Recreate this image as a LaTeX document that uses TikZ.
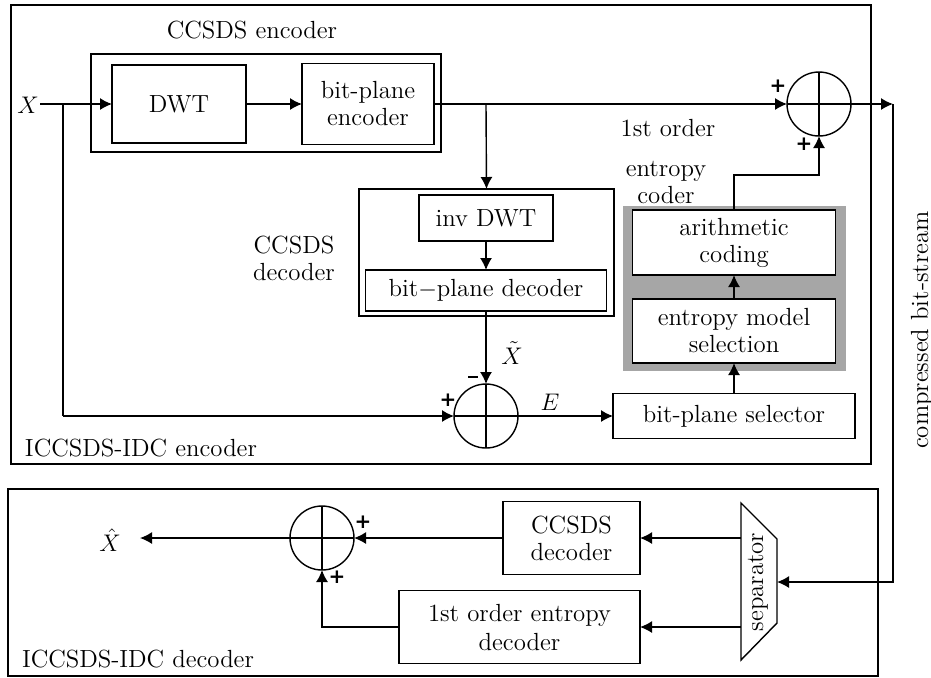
\documentclass[tikz,border=0pt]{standalone}
\usepackage{fontspec}
\newfontfamily\signfont{DejaVu Sans}
\usetikzlibrary{arrows.meta}
\definecolor{grayfill}{RGB}{166,166,166}
\begin{document}
\begin{tikzpicture}[x=0.5pt,y=-0.5pt,
  every node/.style={font=\fontsize{12.4}{13.5}\selectfont, inner sep=0pt, outer sep=0pt},
  blk/.style={draw, line width=0.7pt, align=center, rectangle},
  sumc/.style={draw, line width=0.7pt, circle, minimum size=64*0.5pt,
    path picture={\draw[line width=0.7pt] (path picture bounding box.north) -- (path picture bounding box.south)
      (path picture bounding box.west) -- (path picture bounding box.east);}},
  sgn/.style={font=\signfont\bfseries\fontsize{10}{12}\selectfont},
  conn/.style={line width=0.7pt},
  arr/.style={line width=0.7pt, -{Latex[length=6pt,width=6pt]}}
]
\useasboundingbox (0,0) rectangle (931,677);
% containers
\node[blk, minimum width=860*0.5pt, minimum height=459*0.5pt] (encbox) at (441,234.5) {};
\node[blk, minimum width=870*0.5pt, minimum height=187*0.5pt] (decbox) at (443,582.5) {};
\node[blk, minimum width=350*0.5pt, minimum height=98*0.5pt] (ccsdsenc) at (266,103) {};
\node[blk, minimum width=255*0.5pt, minimum height=127*0.5pt] (ccsdsdec) at (486.5,252.5) {};
\node[rectangle, fill=grayfill, minimum width=223*0.5pt, minimum height=165*0.5pt] (gray) at (734.5,288.5) {};
% labels
\node (lccsdsenc) at (252,30) {CCSDS encoder};
\node (lorder) at (668,128) {1st order};
\node[align=center] (lentropy) at (666,182) {entropy\\coder};
\node[align=center] (lccsdsdec) at (294,258) {CCSDS\\decoder};
\node[anchor=west] (lenc) at (25,448) {ICCSDS-IDC encoder};
\node[anchor=west] (ldec) at (22,659) {ICCSDS-IDC decoder};
\node[rotate=90] (lbits) at (922,330) {compressed bit-stream};
% blocks
\node[blk, minimum width=134*0.5pt, minimum height=78*0.5pt] (dwt) at (179,104) {DWT};
\node[blk, minimum width=132*0.5pt, minimum height=81*0.5pt] (bpe) at (368,104) {bit-plane\\encoder};
\node[sumc] (s1) at (819,104) {};
\node[blk, minimum width=134*0.5pt, minimum height=46*0.5pt] (invdwt) at (486,218) {inv DWT};
\node[blk, minimum width=241*0.5pt, minimum height=41*0.5pt] (bpd) at (486,290.5) {bit$-$plane decoder};
\node[sumc] (s2) at (486,416) {};
\node[blk, minimum width=242*0.5pt, minimum height=45*0.5pt] (bps) at (734,416) {bit-plane selector};
\node[blk, fill=white, minimum width=203*0.5pt, minimum height=65*0.5pt] (arith) at (734,242.5) {arithmetic\\coding};
\node[blk, fill=white, minimum width=203*0.5pt, minimum height=64*0.5pt] (ems) at (734,331) {entropy model\\selection};
\node[sumc] (s3) at (322,538) {};
\node[blk, minimum width=137*0.5pt, minimum height=73*0.5pt] (cdec) at (571.5,538) {CCSDS\\decoder};
\node[blk, minimum width=241*0.5pt, minimum height=73*0.5pt, font=\fontsize{12.4}{14.5}\selectfont] (foed) at (519.5,627) {1st order entropy\\decoder};
% separator
\draw[conn] (741,503) -- (777,539) -- (777,623) -- (741,660) -- cycle;
\node[rotate=90] (sep) at (758,582) {separator};
\coordinate (sepin) at (777,582);
\coordinate (sepo1) at (741,538);
\coordinate (sepo2) at (741,627);
% io labels
\node (X) at (28,105) {$X$};
\node (Xh) at (110,540) {$\hat{X}$};
\node (Xt) at (512,353) {$\tilde{X}$};
\node (E) at (550,402) {$E$};
\coordinate (xin) at (40,104);
\coordinate (xbr) at (63,104);
\coordinate (mbr) at (486,104);
\coordinate (aturn) at (734,175);
\coordinate (out) at (893,104);
\coordinate (xhend) at (140,538);
% signs
\node[sgn] (p1) at (778,86) {+};
\node[sgn] (p2) at (804,144) {+};
\node[sgn] (p3) at (448,400) {+};
\node (m1) at (473,377) {\rule{5pt}{1.2pt}};
\node[sgn] (p4) at (363,522) {+};
\node[sgn] (p5) at (337,577) {+};
% connectors
\draw[arr] (xin) -- (dwt.west);
\draw[conn] (xbr) -- (63,416);
\draw[arr] (63,416) -- (s2.west);
\draw[arr] (dwt.east) -- (bpe.west);
\draw[arr] (bpe.east) -- (s1.west);
\draw[arr] (mbr) -- (ccsdsdec.north);
\draw[arr] (invdwt.south) -- (bpd.north);
\draw[arr] (bpd.south) -- (s2.north);
\draw[arr] (s2.east) -- (bps.west);
\draw[arr] (bps.north) -- (ems.south);
\draw[arr] (ems.north) -- (arith.south);
\draw[arr] (arith.north) -- (aturn) -| (s1.south);
\draw[arr] (s1.east) -- (out);
\draw[arr] (out) |- (sepin);
\draw[arr] (sepo1) -- (cdec.east);
\draw[arr] (sepo2) -- (foed.east);
\draw[arr] (cdec.west) -- (s3.east);
\draw[arr] (foed.west) -| (s3.south);
\draw[arr] (s3.west) -- (xhend);
\end{tikzpicture}
\end{document}
